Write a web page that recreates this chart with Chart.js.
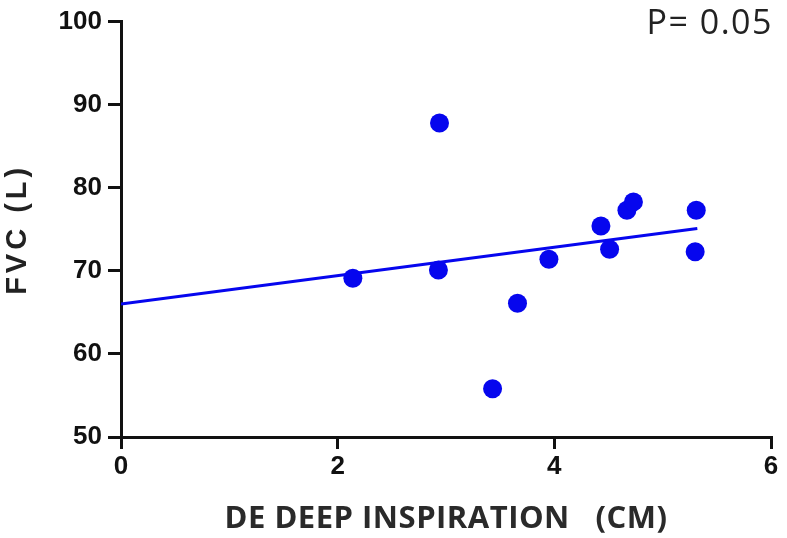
<!DOCTYPE html>
<html>
<head>
<meta charset="utf-8">
<script src="https://cdn.jsdelivr.net/npm/chart.js@4.4.1/dist/chart.umd.min.js"></script>
<style>
html, body { margin: 0; padding: 0; background: #fff; }
#wrap { width: 787px; height: 538px; }
</style>
</head>
<body>
<div id="wrap"><canvas id="chart1"></canvas></div>
<script>
// DE deep inspiration (cm) vs FVC
var deX = [2.14, 2.94, 2.93, 3.43, 3.66, 3.95, 4.43, 4.51, 4.67, 4.73, 5.31, 5.30];
var fvcY = [69.1, 87.8, 70.1, 55.8, 66.1, 71.4, 75.4, 72.6, 77.3, 78.3, 77.3, 72.3];
// regression line ends
var fitX = [0, 5.32];
var fitY = [66.0, 75.1];
var xTicks = [0, 2, 4, 6];
var yTicks = [50, 60, 70, 80, 90, 100];
var pLabel = 'P= 0.05';

var blue = 'rgb(6, 6, 238)';

var points = deX.map(function (x, i) { return { x: x, y: fvcY[i] }; });
var fit = fitX.map(function (x, i) { return { x: x, y: fitY[i] }; });

var pTextPlugin = {
    id: 'pText',
    afterDraw: function (chart) {
        var ctx = chart.ctx;
        ctx.save();
        ctx.font = '34px "Open Sans"';
        ctx.fillStyle = '#222';
        ctx.textAlign = 'right';
        ctx.textBaseline = 'alphabetic';
        ctx.letterSpacing = '1.5px';
        ctx.fillText(pLabel, chart.chartArea.right + 2, 34);
        ctx.restore();
    }
};

var tickFont = { family: '"Liberation Sans", Arial, sans-serif', size: 26, weight: 'bold' };

var chart1 = document.getElementById('chart1').getContext('2d');
var myChart1 = new Chart(chart1, {
    type: 'scatter',
    data: {
        datasets: [{
            label: 'FVC',
            data: points,
            backgroundColor: blue,
            borderWidth: 0,
            pointRadius: 9.5,
            order: 0
        }, {
            type: 'line',
            label: 'fit',
            data: fit,
            borderColor: blue,
            borderWidth: 3,
            pointRadius: 0,
            fill: false,
            order: 1
        }]
    },
    options: {
        responsive: true,
        maintainAspectRatio: false,
        animation: false,
        layout: { padding: { top: 18, right: 16, bottom: 0, left: 0 } },
        plugins: {
            legend: { display: false },
            tooltip: { enabled: false }
        },
        scales: {
            x: {
                type: 'linear',
                min: 0,
                max: 6,
                afterBuildTicks: function (axis) {
                    axis.ticks = xTicks.map(function (v) { return { value: v }; });
                },
                afterFit: function (scale) { scale.height = 101; },
                grid: { drawOnChartArea: false, drawTicks: true, tickLength: 12, color: '#111', lineWidth: 3 },
                border: { color: '#111', width: 3 },
                ticks: { font: tickFont, color: '#111', padding: 2 },
                title: {
                    display: true,
                    text: 'DE DEEP INSPIRATION   (CM)',
                    color: '#2a2a2a',
                    font: { family: '"Open Sans", sans-serif', size: 31, weight: 'bold' },
                    padding: { top: 2, bottom: 0 }
                }
            },
            y: {
                min: 50,
                max: 100,
                afterBuildTicks: function (axis) {
                    axis.ticks = yTicks.map(function (v) { return { value: v }; });
                },
                afterFit: function (scale) { scale.width = 121; },
                grid: { drawOnChartArea: false, drawTicks: true, tickLength: 13, color: '#111', lineWidth: 3 },
                border: { color: '#111', width: 3 },
                ticks: { font: tickFont, color: '#111', padding: 6 },
                title: {
                    display: true,
                    text: 'FVC (L)',
                    color: '#222',
                    font: { family: '"Liberation Sans", Arial, sans-serif', size: 29, weight: 'bold' },
                    padding: { top: 1, bottom: 0 }
                }
            }
        }
    },
    plugins: [pTextPlugin]
});

// the axis titles in the figure are a little letter-spaced
function spaceTitle(scale, spacing) {
    var drawTitle = scale.drawTitle;
    scale.drawTitle = function () {
        this.ctx.save();
        this.ctx.letterSpacing = spacing;
        drawTitle.apply(this, arguments);
        this.ctx.restore();
    };
}
spaceTitle(myChart1.scales.y, '4px');
spaceTitle(myChart1.scales.x, '0.5px');
myChart1.draw();
</script>
</body>
</html>
